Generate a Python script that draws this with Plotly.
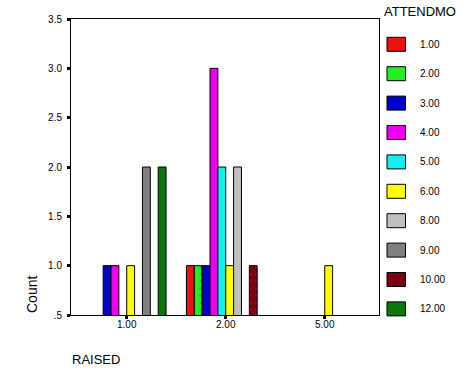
import plotly.graph_objects as go

# Data
raised_labels = ["1.00", "2.00", "5.00"]
raised_pos = [0, 1, 2]
attend_names = ["1.00", "2.00", "3.00", "4.00", "5.00", "6.00", "8.00", "9.00", "10.00", "12.00"]
attend_colors = ["#EE1111", "#22EE22", "#0000CC", "#EE00EE", "#11EEEE",
                 "#FFFF00", "#C0C0C0", "#808080", "#770011", "#0B780B"]
counts = {
    "1.00":  [None, 1, None],
    "2.00":  [None, 1, None],
    "3.00":  [1, 1, None],
    "4.00":  [1, 3, None],
    "5.00":  [None, 2, None],
    "6.00":  [1, 1, 1],
    "8.00":  [None, 2, None],
    "9.00":  [2, None, None],
    "10.00": [None, 1, None],
    "12.00": [2, None, None],
}
y_tickvals = [0.5, 1.0, 1.5, 2.0, 2.5, 3.0, 3.5]
y_ticktext = [".5", "1.0", "1.5", "2.0", "2.5", "3.0", "3.5"]

FONT = "Liberation Sans, Arial, sans-serif"
W, H = 472, 377
L, R, T, B = 71, 93, 19, 62
PW, PH = W - L - R, H - T - B

def px_x(p):
    return (p - L) / PW

def px_y(p):
    return (H - B - p) / PH

patterns = {"2.00": ("#119911", 0.12), "10.00": ("#AA4455", 0.12)}

fig = go.Figure()
for name, color in zip(attend_names, attend_colors):
    marker = dict(color=color, line=dict(color="black", width=1))
    if name in patterns:
        fg, sol = patterns[name]
        marker["pattern"] = dict(shape=".", fgcolor=fg, bgcolor=color, size=7, solidity=sol)
    fig.add_trace(go.Bar(x=raised_pos, y=counts[name], name=name, marker=marker,
                         showlegend=False))

# Manual legend
shapes = []
annotations = []
for i, (name, color) in enumerate(zip(attend_names, attend_colors)):
    cy = 44.3 + i * 29.4
    shapes.append(dict(type="rect", xref="paper", yref="paper",
                       x0=px_x(387), x1=px_x(405.5), y0=px_y(cy - 7), y1=px_y(cy + 7),
                       fillcolor=color, line=dict(color="black", width=1)))
    annotations.append(dict(text=name, xref="paper", yref="paper", x=px_x(418), y=px_y(cy),
                            xanchor="left", yanchor="middle", showarrow=False,
                            font=dict(family=FONT, size=10, color="black")))
annotations.append(dict(text="ATTENDMO", xref="paper", yref="paper", x=px_x(382), y=px_y(11.5),
                        xanchor="left", yanchor="middle", showarrow=False,
                        font=dict(family=FONT, size=13, color="black")))
annotations.append(dict(text="Count", xref="paper", yref="paper", x=px_x(32), y=px_y(295),
                        xanchor="center", yanchor="middle", showarrow=False, textangle=-90,
                        font=dict(family=FONT, size=14, color="black")))
annotations.append(dict(text="RAISED", xref="paper", yref="paper", x=px_x(70), y=px_y(359),
                        xanchor="left", yanchor="middle", showarrow=False,
                        font=dict(family=FONT, size=13, color="black")))

fig.update_layout(
    width=W, height=H,
    margin=dict(l=L, r=R, t=T, b=B, pad=0),
    paper_bgcolor="white", plot_bgcolor="white",
    barmode="group", bargap=0.206, bargroupgap=0,
    showlegend=False,
    shapes=shapes, annotations=annotations,
    font=dict(family=FONT, size=10, color="black"),
    xaxis=dict(range=[-0.563, 2.548], tickvals=raised_pos, ticktext=raised_labels,
               showline=True, linecolor="black", linewidth=1, mirror=True,
               ticks="outside", ticklen=3, tickwidth=3, tickcolor="black",
               ticklabelstandoff=-3,
               showgrid=False, zeroline=False, fixedrange=True,
               tickfont=dict(family=FONT, size=10, color="black")),
    yaxis=dict(range=[0.5, 3.5], tickvals=y_tickvals, ticktext=y_ticktext,
               showline=True, linecolor="black", linewidth=1, mirror=True,
               ticks="outside", ticklen=3, tickwidth=3, tickcolor="black",
               ticklabelstandoff=3,
               showgrid=False, zeroline=False, fixedrange=True,
               tickfont=dict(family=FONT, size=10, color="black")),
)

fig.write_html("out.html", config={"displayModeBar": False},
               post_script="document.body.style.margin='0';document.body.style.padding='0';")
